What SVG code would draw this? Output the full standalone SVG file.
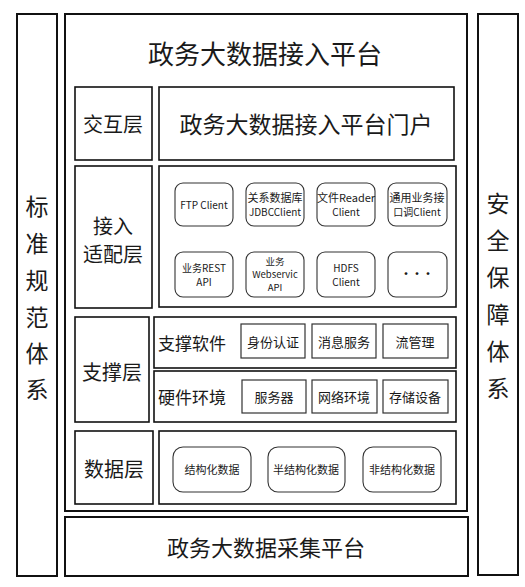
<svg xmlns="http://www.w3.org/2000/svg" width="525" height="587" viewBox="0 0 525 587">
<style>
.frame{fill:#fff;stroke:#111;stroke-width:2}
.box{fill:#fff;stroke:#111;stroke-width:1.6}
.sb{fill:#fff;stroke:#333;stroke-width:1.2}
.rb{fill:#fff;stroke:#333;stroke-width:1.1}
text{font-family:"Noto Sans CJK SC","Noto Sans",sans-serif;fill:#1a1a1a;text-anchor:middle;dominant-baseline:central}
.t26{font-size:26px}
.t23{font-size:23px}
.t22{font-size:22px}
.t20{font-size:20px}
.t17{font-size:17px;text-anchor:start}
.t13{font-size:13px}
.t11{font-size:11px}
.t10{font-size:10px}
.t9{font-size:9.5px}
</style>
<rect width="525" height="587" fill="#fff"/>
<g id="left-standard">
<rect class="frame" x="17" y="14" width="40" height="562"/>
<text class="t23" x="37" y="205">标</text>
<text class="t23" x="37" y="242">准</text>
<text class="t23" x="37" y="279">规</text>
<text class="t23" x="37" y="316">范</text>
<text class="t23" x="37" y="352">体</text>
<text class="t23" x="37" y="388">系</text>
</g>
<g id="right-security">
<rect class="frame" x="478" y="14" width="40" height="561"/>
<text class="t23" x="498" y="202">安</text>
<text class="t23" x="498" y="239">全</text>
<text class="t23" x="498" y="276">保</text>
<text class="t23" x="498" y="313">障</text>
<text class="t23" x="498" y="350">体</text>
<text class="t23" x="498" y="387">系</text>
</g>
<g id="platform">
<rect class="frame" x="65" y="14" width="402" height="497"/>
<text class="t26" x="265" y="52">政务大数据接入平台</text>
</g>
<g id="interaction-layer">
<rect class="box" x="75" y="87" width="77" height="73"/>
<text class="t20" x="113" y="123">交互层</text>
<rect class="box" x="159" y="87" width="295" height="73"/>
<text class="t23" x="306" y="123">政务大数据接入平台门户</text>
</g>
<g id="access-layer">
<rect class="box" x="75" y="166" width="77" height="142"/>
<text class="t20" x="113" y="225">接入</text>
<text class="t20" x="113" y="253">适配层</text>
<rect class="box" x="159" y="166" width="297" height="141"/>
</g>
<g id="ftp"><rect class="rb" x="175" y="183" width="58" height="43" rx="8"/><text class="t10" x="204" y="204">FTP Client</text></g>
<g id="jdbc"><rect class="rb" x="246" y="183" width="58" height="43" rx="8"/><text class="t11" x="275" y="197">关系数据库</text><text class="t10" x="275" y="211">JDBCClient</text></g>
<g id="reader"><rect class="rb" x="317" y="183" width="58" height="43" rx="8"/><text class="t11" x="346" y="197">文件Reader</text><text class="t10" x="346" y="211">Client</text></g>
<g id="general"><rect class="rb" x="388" y="183" width="59" height="43" rx="8"/><text class="t11" x="417" y="197">通用业务接</text><text class="t10" x="417" y="211">口调Client</text></g>
<g id="rest"><rect class="rb" x="175" y="252" width="58" height="45" rx="8"/><text class="t10" x="204" y="267">业务REST</text><text class="t10" x="204" y="281">API</text></g>
<g id="webservice"><rect class="rb" x="246" y="252" width="58" height="45" rx="8"/><text class="t9" x="275" y="261">业务</text><text class="t9" x="275" y="274">Webservic</text><text class="t9" x="275" y="287">API</text></g>
<g id="hdfs"><rect class="rb" x="317" y="252" width="58" height="45" rx="8"/><text class="t10" x="346" y="267">HDFS</text><text class="t10" x="346" y="281">Client</text></g>
<g id="more"><rect class="rb" x="388" y="252" width="59" height="45" rx="8"/><text class="t11" x="417" y="273" font-weight="bold">···</text></g>
<g id="support-layer">
<rect class="box" x="75" y="317" width="74" height="105"/>
<text class="t20" x="112" y="371">支撑层</text>
</g>
<g id="software">
<rect class="box" x="154" y="317" width="302" height="51"/>
<text class="t17" x="158" y="342">支撑软件</text>
<rect class="sb" x="241" y="324" width="64" height="34"/><text class="t13" x="273" y="341">身份认证</text>
<rect class="sb" x="312" y="324" width="64" height="34"/><text class="t13" x="344" y="341">消息服务</text>
<rect class="sb" x="383" y="324" width="65" height="34"/><text class="t13" x="415" y="341">流管理</text>
</g>
<g id="hardware">
<rect class="box" x="154" y="371" width="302" height="51"/>
<text class="t17" x="158" y="396">硬件环境</text>
<rect class="sb" x="242" y="380" width="64" height="33"/><text class="t13" x="274" y="396">服务器</text>
<rect class="sb" x="312" y="380" width="65" height="33"/><text class="t13" x="344" y="396">网络环境</text>
<rect class="sb" x="383" y="380" width="65" height="33"/><text class="t13" x="415" y="396">存储设备</text>
</g>
<g id="data-layer">
<rect class="box" x="75" y="431" width="78" height="73"/>
<text class="t20" x="114" y="468">数据层</text>
<rect class="box" x="159" y="431" width="297" height="73"/>
<rect class="rb" x="173" y="447" width="78" height="45" rx="10"/><text class="t11" x="212" y="469">结构化数据</text>
<rect class="rb" x="268" y="447" width="77" height="45" rx="10"/><text class="t11" x="306" y="469">半结构化数据</text>
<rect class="rb" x="363" y="447" width="78" height="45" rx="10"/><text class="t11" x="402" y="469">非结构化数据</text>
</g>
<g id="collection-platform">
<rect class="frame" x="65" y="517" width="403" height="59"/>
<text class="t22" x="266" y="546">政务大数据采集平台</text>
</g>
<g id="connectors"></g>
</svg>
